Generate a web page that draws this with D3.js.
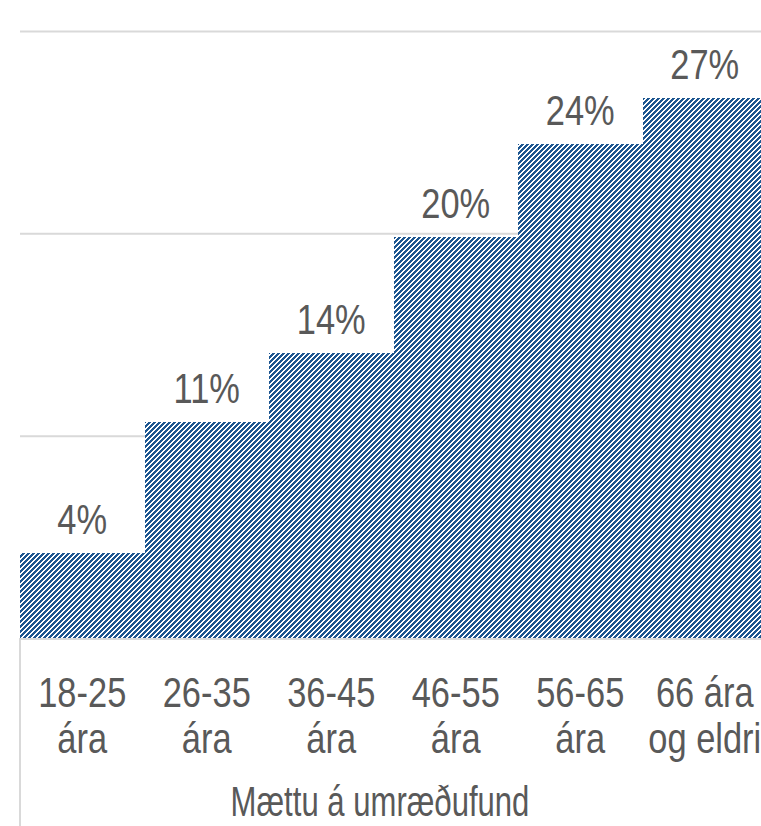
<!DOCTYPE html>
<html>
<head>
<meta charset="utf-8">
<script src="https://cdn.jsdelivr.net/npm/d3@7"></script>
<style>
  html, body { margin: 0; padding: 0; background: #fff; }
  svg { display: block; }
  text { font-family: "Liberation Sans", Arial, sans-serif; fill: #595959; }
</style>
</head>
<body>
<svg id="chart" width="761" height="826"></svg>
<script>
const categories = ["18-25 ára", "26-35 ára", "36-45 ára", "46-55 ára", "56-65 ára", "66 ára og eldri"];
const categoryLines = [["18-25", "ára"], ["26-35", "ára"], ["36-45", "ára"], ["46-55", "ára"], ["56-65", "ára"], ["66 ára", "og eldri"]];
const values = [4.2, 10.7, 14.1, 19.8, 24.4, 26.7];
const valueLabels = ["4%", "11%", "14%", "20%", "24%", "27%"];
const gridTicks = [10, 20, 30];
const axisTitle = "Mættu á umræðufund";

(function () {
const svg = d3.select("#chart");
const W = 761, H = 826;
const mLeft = 20, mRight = 767, mTop = 31, base = 638;
const sx = 0.82;
const fs = 42;

const x = d3.scaleBand().domain(categories).range([mLeft, mRight]).padding(0);
const y = d3.scaleLinear().domain([0, 30]).range([base, mTop]);

// pixel stripe pattern (upward diagonal)
const P = 5;
const defs = svg.append("defs");
const pat = defs.append("pattern")
  .attr("id", "diag")
  .attr("patternUnits", "userSpaceOnUse")
  .attr("width", P).attr("height", P);
pat.append("rect").attr("width", P).attr("height", P).attr("fill", "#ffffff");
for (let py = 0; py < P; py++) {
  for (let px = 0; px < P; px++) {
    if ((px + py) % P < 3) {
      pat.append("rect").attr("x", px).attr("y", py).attr("width", 1).attr("height", 1)
        .attr("fill", "#1d5690").attr("shape-rendering", "crispEdges");
    }
  }
}

// gridlines
const grid = svg.append("g")
  .attr("transform", `translate(${mLeft},0)`)
  .call(d3.axisLeft(y).tickValues(gridTicks).tickSize(-(W - mLeft)).tickFormat(""));
grid.select(".domain").remove();
grid.selectAll(".tick line").attr("stroke", "#d9d9d9").attr("stroke-width", 2);

// bars
svg.append("g").selectAll("rect.bar")
  .data(values)
  .join("rect")
  .attr("class", "bar")
  .attr("x", (d, i) => x(categories[i]))
  .attr("width", x.bandwidth())
  .attr("y", d => y(d))
  .attr("height", d => y(0) - y(d))
  .attr("fill", "url(#diag)")
  .attr("shape-rendering", "crispEdges");

// baseline axis
const xAxis = svg.append("g")
  .attr("transform", `translate(0,${base})`)
  .call(d3.axisBottom(x).tickSize(0).tickFormat(""));
xAxis.select(".domain").attr("stroke", "#d9d9d9").attr("stroke-width", 2).attr("d", `M${mLeft},1H${W}`);

// left category-axis line
svg.append("line")
  .attr("x1", mLeft).attr("x2", mLeft)
  .attr("y1", base).attr("y2", H)
  .attr("stroke", "#d9d9d9").attr("stroke-width", 2);

// value labels
svg.append("g").selectAll("text.val")
  .data(values)
  .join("text")
  .attr("class", "val")
  .attr("text-anchor", "middle")
  .attr("font-size", fs)
  .attr("transform", (d, i) => `translate(${x(categories[i]) + x.bandwidth() / 2},${y(d) - 19}) scale(${sx},1)`)
  .text((d, i) => valueLabels[i]);

// category labels
const cat = svg.append("g").selectAll("g.cat")
  .data(categories)
  .join("g")
  .attr("class", "cat");
[707, 753].forEach((by, li) => {
  cat.append("text")
    .attr("text-anchor", "middle")
    .attr("font-size", fs)
    .attr("transform", d => `translate(${x(d) + x.bandwidth() / 2},${by}) scale(${sx},1)`)
    .text(d => categoryLines[categories.indexOf(d)][li]);
});

// axis title
svg.append("text")
  .attr("text-anchor", "middle")
  .attr("font-size", fs)
  .attr("transform", `translate(380,816) scale(0.74,1)`)
  .text(axisTitle);
})();
</script>
</body>
</html>
